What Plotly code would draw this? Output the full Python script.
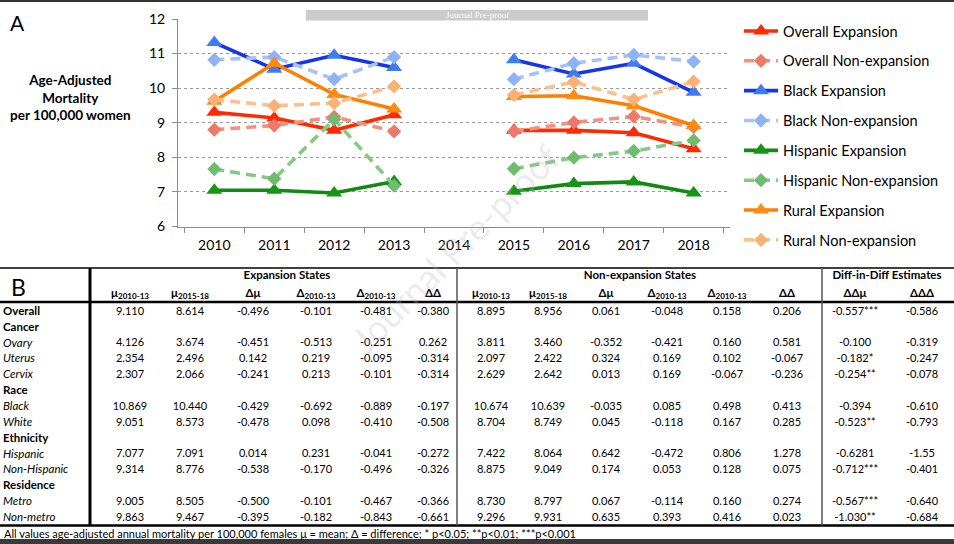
import plotly.graph_objects as go

W, H = 954, 544


def px(x):
    return x / W


def py(y):
    return 1 - y / H


# ---- panel A data ----
years = ["2010", "2011", "2012", "2013", "2014", "2015", "2016", "2017", "2018"]

overall_exp = [9.30, 9.14, 8.78, 9.23, None, 8.78, 8.78, 8.71, 8.25]
overall_nonexp = [8.80, 8.92, 9.17, 8.75, None, 8.75, 9.01, 9.18, 8.88]
black_exp = [11.32, 10.55, 10.95, 10.60, None, 10.82, 10.41, 10.72, 9.88]
black_nonexp = [10.82, 10.90, 10.26, 10.90, None, 10.26, 10.72, 10.96, 10.77]
hisp_exp = [7.05, 7.05, 6.97, 7.30, None, 7.02, 7.24, 7.29, 6.97]
hisp_nonexp = [7.66, 7.38, 9.10, 7.18, None, 7.67, 7.99, 8.18, 8.49]
rural_exp = [9.62, 10.72, 9.82, 9.40, None, 9.76, 9.78, 9.49, 8.92]
rural_nonexp = [9.67, 9.49, 9.57, 10.05, None, 9.80, 10.18, 9.67, 10.19]

# ---- panel B data ----
row_labels = ["<b>Overall</b>", "<b>Cancer</b>", "<i>Ovary</i>", "<i>Uterus</i>", "<i>Cervix</i>",
              "<b>Race</b>", "<i>Black</i>", "<i>White</i>", "<b>Ethnicity</b>", "<i>Hispanic</i>",
              "<i>Non-Hispanic</i>", "<b>Residence</b>", "<i>Metro</i>", "<i>Non-metro</i>"]

exp_mu_pre = ["9.110", "", "4.126", "2.354", "2.307", "", "10.869", "9.051", "", "7.077", "9.314", "", "9.005", "9.863"]
exp_mu_post = ["8.614", "", "3.674", "2.496", "2.066", "", "10.440", "8.573", "", "7.091", "8.776", "", "8.505", "9.467"]
exp_dmu = ["-0.496", "", "-0.451", "0.142", "-0.241", "", "-0.429", "-0.478", "", "0.014", "-0.538", "", "-0.500", "-0.395"]
exp_d_a = ["-0.101", "", "-0.513", "0.219", "0.213", "", "-0.692", "0.098", "", "0.231", "-0.170", "", "-0.101", "-0.182"]
exp_d_b = ["-0.481", "", "-0.251", "-0.095", "-0.101", "", "-0.889", "-0.410", "", "-0.041", "-0.496", "", "-0.467", "-0.843"]
exp_dd = ["-0.380", "", "0.262", "-0.314", "-0.314", "", "-0.197", "-0.508", "", "-0.272", "-0.326", "", "-0.366", "-0.661"]

non_mu_pre = ["8.895", "", "3.811", "2.097", "2.629", "", "10.674", "8.704", "", "7.422", "8.875", "", "8.730", "9.296"]
non_mu_post = ["8.956", "", "3.460", "2.422", "2.642", "", "10.639", "8.749", "", "8.064", "9.049", "", "8.797", "9.931"]
non_dmu = ["0.061", "", "-0.352", "0.324", "0.013", "", "-0.035", "0.045", "", "0.642", "0.174", "", "0.067", "0.635"]
non_d_a = ["-0.048", "", "-0.421", "0.169", "0.169", "", "0.085", "-0.118", "", "-0.472", "0.053", "", "-0.114", "0.393"]
non_d_b = ["0.158", "", "0.160", "0.102", "-0.067", "", "0.498", "0.167", "", "0.806", "0.128", "", "0.160", "0.416"]
non_dd = ["0.206", "", "0.581", "-0.067", "-0.236", "", "0.413", "0.285", "", "1.278", "0.075", "", "0.274", "0.023"]

did_ddmu = ["-0.557***", "", "-0.100", "-0.182*", "-0.254**", "", "-0.394", "-0.523**", "", "-0.6281", "-0.712***", "", "-0.567***", "-1.030**"]
did_ddd = ["-0.586", "", "-0.319", "-0.247", "-0.078", "", "-0.610", "-0.793", "", "-1.55", "-0.401", "", "-0.640", "-0.684"]

header_labels = ["μ<sub>2010-13</sub>", "μ<sub>2015-18</sub>", "Δμ", "Δ<sub>2010-13</sub>", "Δ<sub>2010-13</sub>", "ΔΔ",
                 "μ<sub>2010-13</sub>", "μ<sub>2015-18</sub>", "Δμ", "Δ<sub>2010-13</sub>", "Δ<sub>2010-13</sub>", "ΔΔ",
                 "ΔΔμ", "ΔΔΔ"]
group_labels = ["Expansion States", "Non-expansion States", "Diff-in-Diff Estimates"]

FONT = "Lato, 'Open Sans', sans-serif"

fig = go.Figure()

# series: (name, values, line colour, marker colour, expansion?)
series = [
    ("Overall Expansion", overall_exp, "#ff2a00", "#ff2a00", True),
    ("Overall Non-expansion", overall_nonexp, "#f4907e", "#ec7a68", False),
    ("Black Expansion", black_exp, "#1336ea", "#3f7cf0", True),
    ("Black Non-expansion", black_nonexp, "#a6c2f7", "#8fb2f3", False),
    ("Hispanic Expansion", hisp_exp, "#118a11", "#169616", True),
    ("Hispanic Non-expansion", hisp_nonexp, "#86c986", "#6fbb6f", False),
    ("Rural Expansion", rural_exp, "#ff7f00", "#ff8a12", True),
    ("Rural Non-expansion", rural_nonexp, "#fbc18d", "#f8b277", False),
]

for name, vals, lc, mc, exp in series:
    fig.add_trace(go.Scatter(
        x=years, y=vals, name=name, legendgroup=name,
        mode="lines+markers", connectgaps=False,
        line=dict(color=lc, width=3.6, dash="solid" if exp else "10px,6px"),
        marker=dict(symbol="triangle-up" if exp else "diamond",
                    size=14 if exp else 11, color=mc),
        hoverinfo="skip",
    ))

# ---- panel B: text on a pixel-like overlay axis (x2 in px, y2 in row units) ----
ROW0, ROWH = 312, 15.85                 # centre of first data row, row pitch (px)
HEADER_ROW = (294 - ROW0) / ROWH
GROUP_ROW = (276 - ROW0) / ROWH
col_x = [130, 190, 253, 316, 376, 433, 491, 548, 606, 667, 727, 787, 855, 922]
group_x = [287, 640, 887]
rows = list(range(len(row_labels)))

columns = [exp_mu_pre, exp_mu_post, exp_dmu, exp_d_a, exp_d_b, exp_dd,
           non_mu_pre, non_mu_post, non_dmu, non_d_a, non_d_b, non_dd, did_ddmu, did_ddd]

txt = dict(mode="text", xaxis="x2", yaxis="y2", showlegend=False, hoverinfo="skip")

fig.add_trace(go.Scatter(x=[3] * len(rows), y=rows, text=row_labels, textposition="middle right",
                         textfont=dict(size=11.5, family=FONT), **txt))
for cx, col in zip(col_x, columns):
    fig.add_trace(go.Scatter(x=[cx] * len(rows), y=rows, text=col, textposition="middle center",
                             textfont=dict(size=11, family=FONT), **txt))
fig.add_trace(go.Scatter(x=col_x, y=[HEADER_ROW] * len(col_x),
                         text=["<b>%s</b>" % h for h in header_labels], textposition="middle center",
                         textfont=dict(size=11.5, family=FONT), **txt))
fig.add_trace(go.Scatter(x=group_x, y=[GROUP_ROW] * len(group_x),
                         text=["<b>%s</b>" % g for g in group_labels], textposition="middle center",
                         textfont=dict(size=11.5, family=FONT), **txt))

shapes = [
    # page edges
    dict(type="rect", x0=0, x1=1, y0=py(0), y1=py(2), fillcolor="#333333", line_width=0),
    dict(type="rect", x0=0, x1=1, y0=py(539), y1=py(544), fillcolor="#3a3a3a", line_width=0),
    # "Journal Pre-proof" bar
    dict(type="rect", x0=px(306), x1=px(648), y0=py(10), y1=py(20.5), fillcolor="#cbcbcb", line_width=0),
    # table rules
    dict(type="line", x0=0, x1=1, y0=py(268), y1=py(268), line=dict(color="black", width=1.5)),
    dict(type="line", x0=0, x1=1, y0=py(302), y1=py(302), line=dict(color="black", width=2.5)),
    dict(type="line", x0=0, x1=1, y0=py(525.5), y1=py(525.5), line=dict(color="black", width=2.5)),
    dict(type="line", x0=px(90), x1=px(90), y0=py(268), y1=py(525.5), line=dict(color="black", width=3)),
    dict(type="line", x0=px(457), x1=px(457), y0=py(268), y1=py(525.5), line=dict(color="#555555", width=1.5)),
    dict(type="line", x0=px(822), x1=px(822), y0=py(268), y1=py(525.5), line=dict(color="#555555", width=1.5)),
]
for s in shapes:
    s.update(xref="paper", yref="paper", layer="above")

annotations = [
    dict(text="A", x=px(8), y=py(23), xanchor="left", font=dict(size=21)),
    dict(text="B", x=px(9), y=py(287), xanchor="left", font=dict(size=23)),
    dict(text="<b>Age-Adjusted<br>Mortality<br>per 100,000 women</b>", x=px(70), y=py(97),
         xanchor="center", font=dict(size=13.5)),
    dict(text="All values age-adjusted annual mortality per 100,000 females μ = mean; Δ = difference; "
              "* p<0.05; **p<0.01; ***p<0.001",
         x=px(2), y=py(533), xanchor="left", font=dict(size=11)),
    dict(text="Journal Pre-proof", x=px(477), y=py(15.3),
         font=dict(size=9, color="white", family="Liberation Serif")),
    dict(text="Journal Pre-proof", x=px(455), y=py(248), textangle=-45,
         font=dict(size=36, color="rgba(185,185,185,0.28)")),
]
for a in annotations:
    a.update(xref="paper", yref="paper", yanchor="middle", showarrow=False)

fig.update_layout(
    width=W, height=H,
    margin=dict(l=0, r=0, t=0, b=0, pad=0, autoexpand=False),
    paper_bgcolor="white", plot_bgcolor="rgba(0,0,0,0)",
    font=dict(family=FONT, color="black"),
    shapes=shapes,
    annotations=annotations,
    showlegend=True,
    legend=dict(x=px(739), y=py(15), xanchor="left", yanchor="top",
                font=dict(size=14.5), tracegroupgap=8, itemwidth=34,
                bgcolor="rgba(0,0,0,0)"),
    xaxis=dict(type="category", categoryorder="array", categoryarray=years,
               domain=[px(178), px(730)], showline=True, linecolor="#8c8c8c",
               ticks="outside", tickson="boundaries", ticklen=5, tickcolor="#8c8c8c",
               showgrid=False, tickfont=dict(size=14), ticklabelstandoff=6, fixedrange=True),
    yaxis=dict(range=[6, 12], dtick=1, domain=[py(226.5), py(19)],
               showline=True, linecolor="#8c8c8c", ticks="outside", ticklen=5,
               tickcolor="#8c8c8c", showgrid=True, gridcolor="#9a9a9a", griddash="dot",
               gridwidth=1, zeroline=False, tickfont=dict(size=14), ticklabelstandoff=4,
               fixedrange=True),
    xaxis2=dict(domain=[0, 1], range=[0, W], visible=False, anchor="y2", fixedrange=True),
    yaxis2=dict(domain=[0, 1], range=[(H - ROW0) / ROWH, -ROW0 / ROWH], visible=False,
                anchor="x2", fixedrange=True),
)

# the default page keeps the browser's 8px body margin; drop it so the figure fills the window
fig.write_html("out.html", config={"displayModeBar": False},
               post_script="document.body.style.margin='0';")
